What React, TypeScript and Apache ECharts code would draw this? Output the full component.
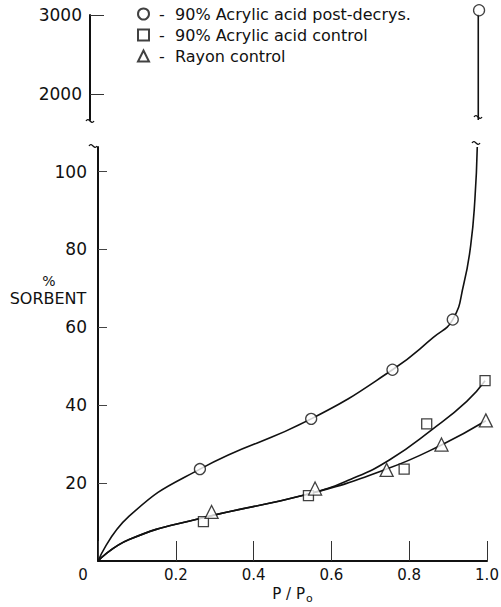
import React, { useEffect, useRef } from 'react';
import * as echarts from 'echarts';

// ---- data ----
const seriesNames = ['90% Acrylic acid post-decrys.', '90% Acrylic acid control', 'Rayon control'];

const circlePoints = [[0.262, 23.6], [0.548, 36.5], [0.757, 49.1], [0.912, 62]];
const circleTopPoint = [[0.98, 3060]];
const squarePoints = [[0.271, 10.1], [0.541, 16.8], [0.787, 23.6], [0.845, 35.2], [0.995, 46.3]];
const trianglePoints = [[0.292, 12.6], [0.558, 18.6], [0.742, 23.4], [0.883, 29.9], [0.997, 36.1]];

const circleCurve = [
  [0, 0], [0.08, 11.5], [0.262, 23.6], [0.548, 36.5], [0.757, 49.1], [0.862, 57.4],
  [0.912, 62], [0.94, 71], [0.958, 81], [0.969, 93], [0.975, 106.3],
];
const circleCurveTop = [[0.978, 1671], [0.978, 3050]];
const squareCurve = [
  [0, 0], [0.08, 5.5], [0.262, 10.9], [0.541, 17.2], [0.65, 21],
  [0.75, 26], [0.862, 34], [0.948, 41], [0.995, 46.3],
];
const triangleCurve = [
  [0, 0], [0.08, 5.5], [0.262, 10.9], [0.541, 17.2],
  [0.742, 23.6], [0.883, 29.8], [0.997, 36],
];

const lowerYMax = 106.3;
const upperYMin = 1671;
const upperYMax = 3000;
const upperTicks = [2000, 3000];
const xTickStep = 0.2;
const yTickStep = 20;

const FONT = 'DejaVu Sans';
const INK = '#111';

export default function App() {
  const ref = useRef<HTMLDivElement>(null);
  useEffect(() => {
    if (!ref.current) return;
    const chart = echarts.init(ref.current, null, { renderer: 'svg' });
    const tilde = (x: number, y: number) => ({
      type: 'bezierCurve',
      x,
      y,
      shape: { x1: -4, y1: 0, x2: 4, y2: 0, cpx1: -1, cpy1: -5, cpx2: 1, cpy2: 5 },
      style: { stroke: INK, lineWidth: 1.3, fill: 'none' },
      silent: true,
    });
    const markerStyle = { color: '#fff', borderColor: INK, borderWidth: 1.3 };
    const lineStyle = { color: INK, width: 1.6 };
    const curve = (data: number[][]) => ({
      type: 'line',
      data,
      xAxisIndex: 0,
      yAxisIndex: 0,
      smooth: 0.5,
      showSymbol: false,
      symbol: 'none',
      lineStyle,
      silent: true,
    });
    chart.setOption({
      animation: false,
      backgroundColor: '#fff',
      textStyle: { fontFamily: FONT, color: INK },
      legend: {
        orient: 'vertical',
        left: 137,
        top: 6,
        padding: 0,
        itemWidth: 11,
        itemHeight: 11,
        itemGap: 5,
        selectedMode: false,
        data: seriesNames,
        formatter: (n: string) => ' -  ' + n,
        textStyle: { fontFamily: FONT, fontSize: 16, color: INK, lineHeight: 15 },
      },
      grid: [
        { left: 98, top: 147, width: 389, height: 414, outerBoundsMode: 'none' },
        { left: 90, top: 15, width: 397, height: 105, outerBoundsMode: 'none' },
      ],
      xAxis: [
        {
          gridIndex: 0,
          type: 'value',
          min: 0,
          max: 1,
          interval: xTickStep,
          splitLine: { show: false },
          axisLine: { lineStyle: { color: INK, width: 2 } },
          axisTick: { inside: true, length: 20, lineStyle: { color: '#333', width: 1 } },
          axisLabel: {
            margin: 6,
            fontFamily: FONT,
            fontSize: 15,
            color: INK,
            formatter: (v: number) => (v === 0 ? '{z|0}' : v.toFixed(1)),
            rich: { z: { fontFamily: FONT, fontSize: 15, color: INK, padding: [0, 30, 0, 0] } },
          },
          name: '{a|P / P}{b|o}',
          nameLocation: 'middle',
          nameGap: 20,
          nameTextStyle: {
            rich: {
              a: { fontFamily: FONT, fontSize: 15, color: INK },
              b: { fontFamily: FONT, fontSize: 11, color: INK, padding: [8, 0, 0, 1] },
            },
          },
        },
        {
          gridIndex: 1,
          type: 'value',
          min: 0,
          max: 1,
          show: false,
        },
      ],
      yAxis: [
        {
          gridIndex: 0,
          type: 'value',
          min: 0,
          max: lowerYMax,
          interval: yTickStep,
          splitLine: { show: false },
          axisLine: { show: true, lineStyle: { color: INK, width: 2 } },
          axisTick: { show: true, inside: true, length: 9, lineStyle: { color: '#444', width: 1 } },
          axisLabel: {
            margin: 11,
            fontFamily: FONT,
            fontSize: 17,
            color: INK,
            showMinLabel: false,
            showMaxLabel: false,
          },
        },
        {
          gridIndex: 1,
          type: 'value',
          min: upperYMin,
          max: upperYMax,
          splitLine: { show: false },
          axisLine: { show: true, lineStyle: { color: INK, width: 2 } },
          axisTick: {
            show: true,
            inside: true,
            length: 14,
            customValues: upperTicks,
            lineStyle: { color: '#333', width: 1 },
          },
          axisLabel: {
            margin: 8,
            fontFamily: FONT,
            fontSize: 17,
            color: INK,
            customValues: upperTicks,
            formatter: (v: number) => String(v),
          },
        },
      ],
      graphic: [
        {
          type: 'text',
          x: 49,
          y: 281,
          style: {
            text: '%',
            fontFamily: FONT,
            fontSize: 14,
            fill: INK,
            textAlign: 'center',
            textVerticalAlign: 'middle',
          },
        },
        {
          type: 'text',
          x: 48,
          y: 298,
          style: {
            text: 'SORBENT',
            fontFamily: FONT,
            fontSize: 16,
            fill: INK,
            textAlign: 'center',
            textVerticalAlign: 'middle',
          },
        },
        tilde(90, 121),
        tilde(93, 146),
        tilde(478, 117),
        tilde(476, 143),
      ],
      series: [
        { ...curve(circleCurve), name: 'c-curve' },
        { type: 'line', name: 'c-curve-top', data: circleCurveTop, xAxisIndex: 1, yAxisIndex: 1, showSymbol: false, symbol: 'none', lineStyle, silent: true },
        { ...curve(squareCurve), name: 's-curve' },
        { ...curve(triangleCurve), name: 't-curve' },
        { type: 'scatter', name: seriesNames[0], data: circlePoints, xAxisIndex: 0, yAxisIndex: 0, symbol: 'circle', symbolSize: 11, itemStyle: markerStyle, z: 5 },
        { type: 'scatter', name: seriesNames[0], data: circleTopPoint, xAxisIndex: 1, yAxisIndex: 1, symbol: 'circle', symbolSize: 11, itemStyle: markerStyle, z: 5, clip: false },
        { type: 'scatter', name: seriesNames[1], data: squarePoints, xAxisIndex: 0, yAxisIndex: 0, symbol: 'rect', symbolSize: 10, itemStyle: markerStyle, z: 5 },
        { type: 'scatter', name: seriesNames[2], data: trianglePoints, xAxisIndex: 0, yAxisIndex: 0, symbol: 'triangle', symbolSize: 13, itemStyle: markerStyle, z: 5 },
      ],
    });
    return () => chart.dispose();
  }, []);
  return (
    <div
      ref={ref}
      style={{ position: 'absolute', left: 0, top: 0, width: 501, height: 607, background: '#fff' }}
    />
  );
}
